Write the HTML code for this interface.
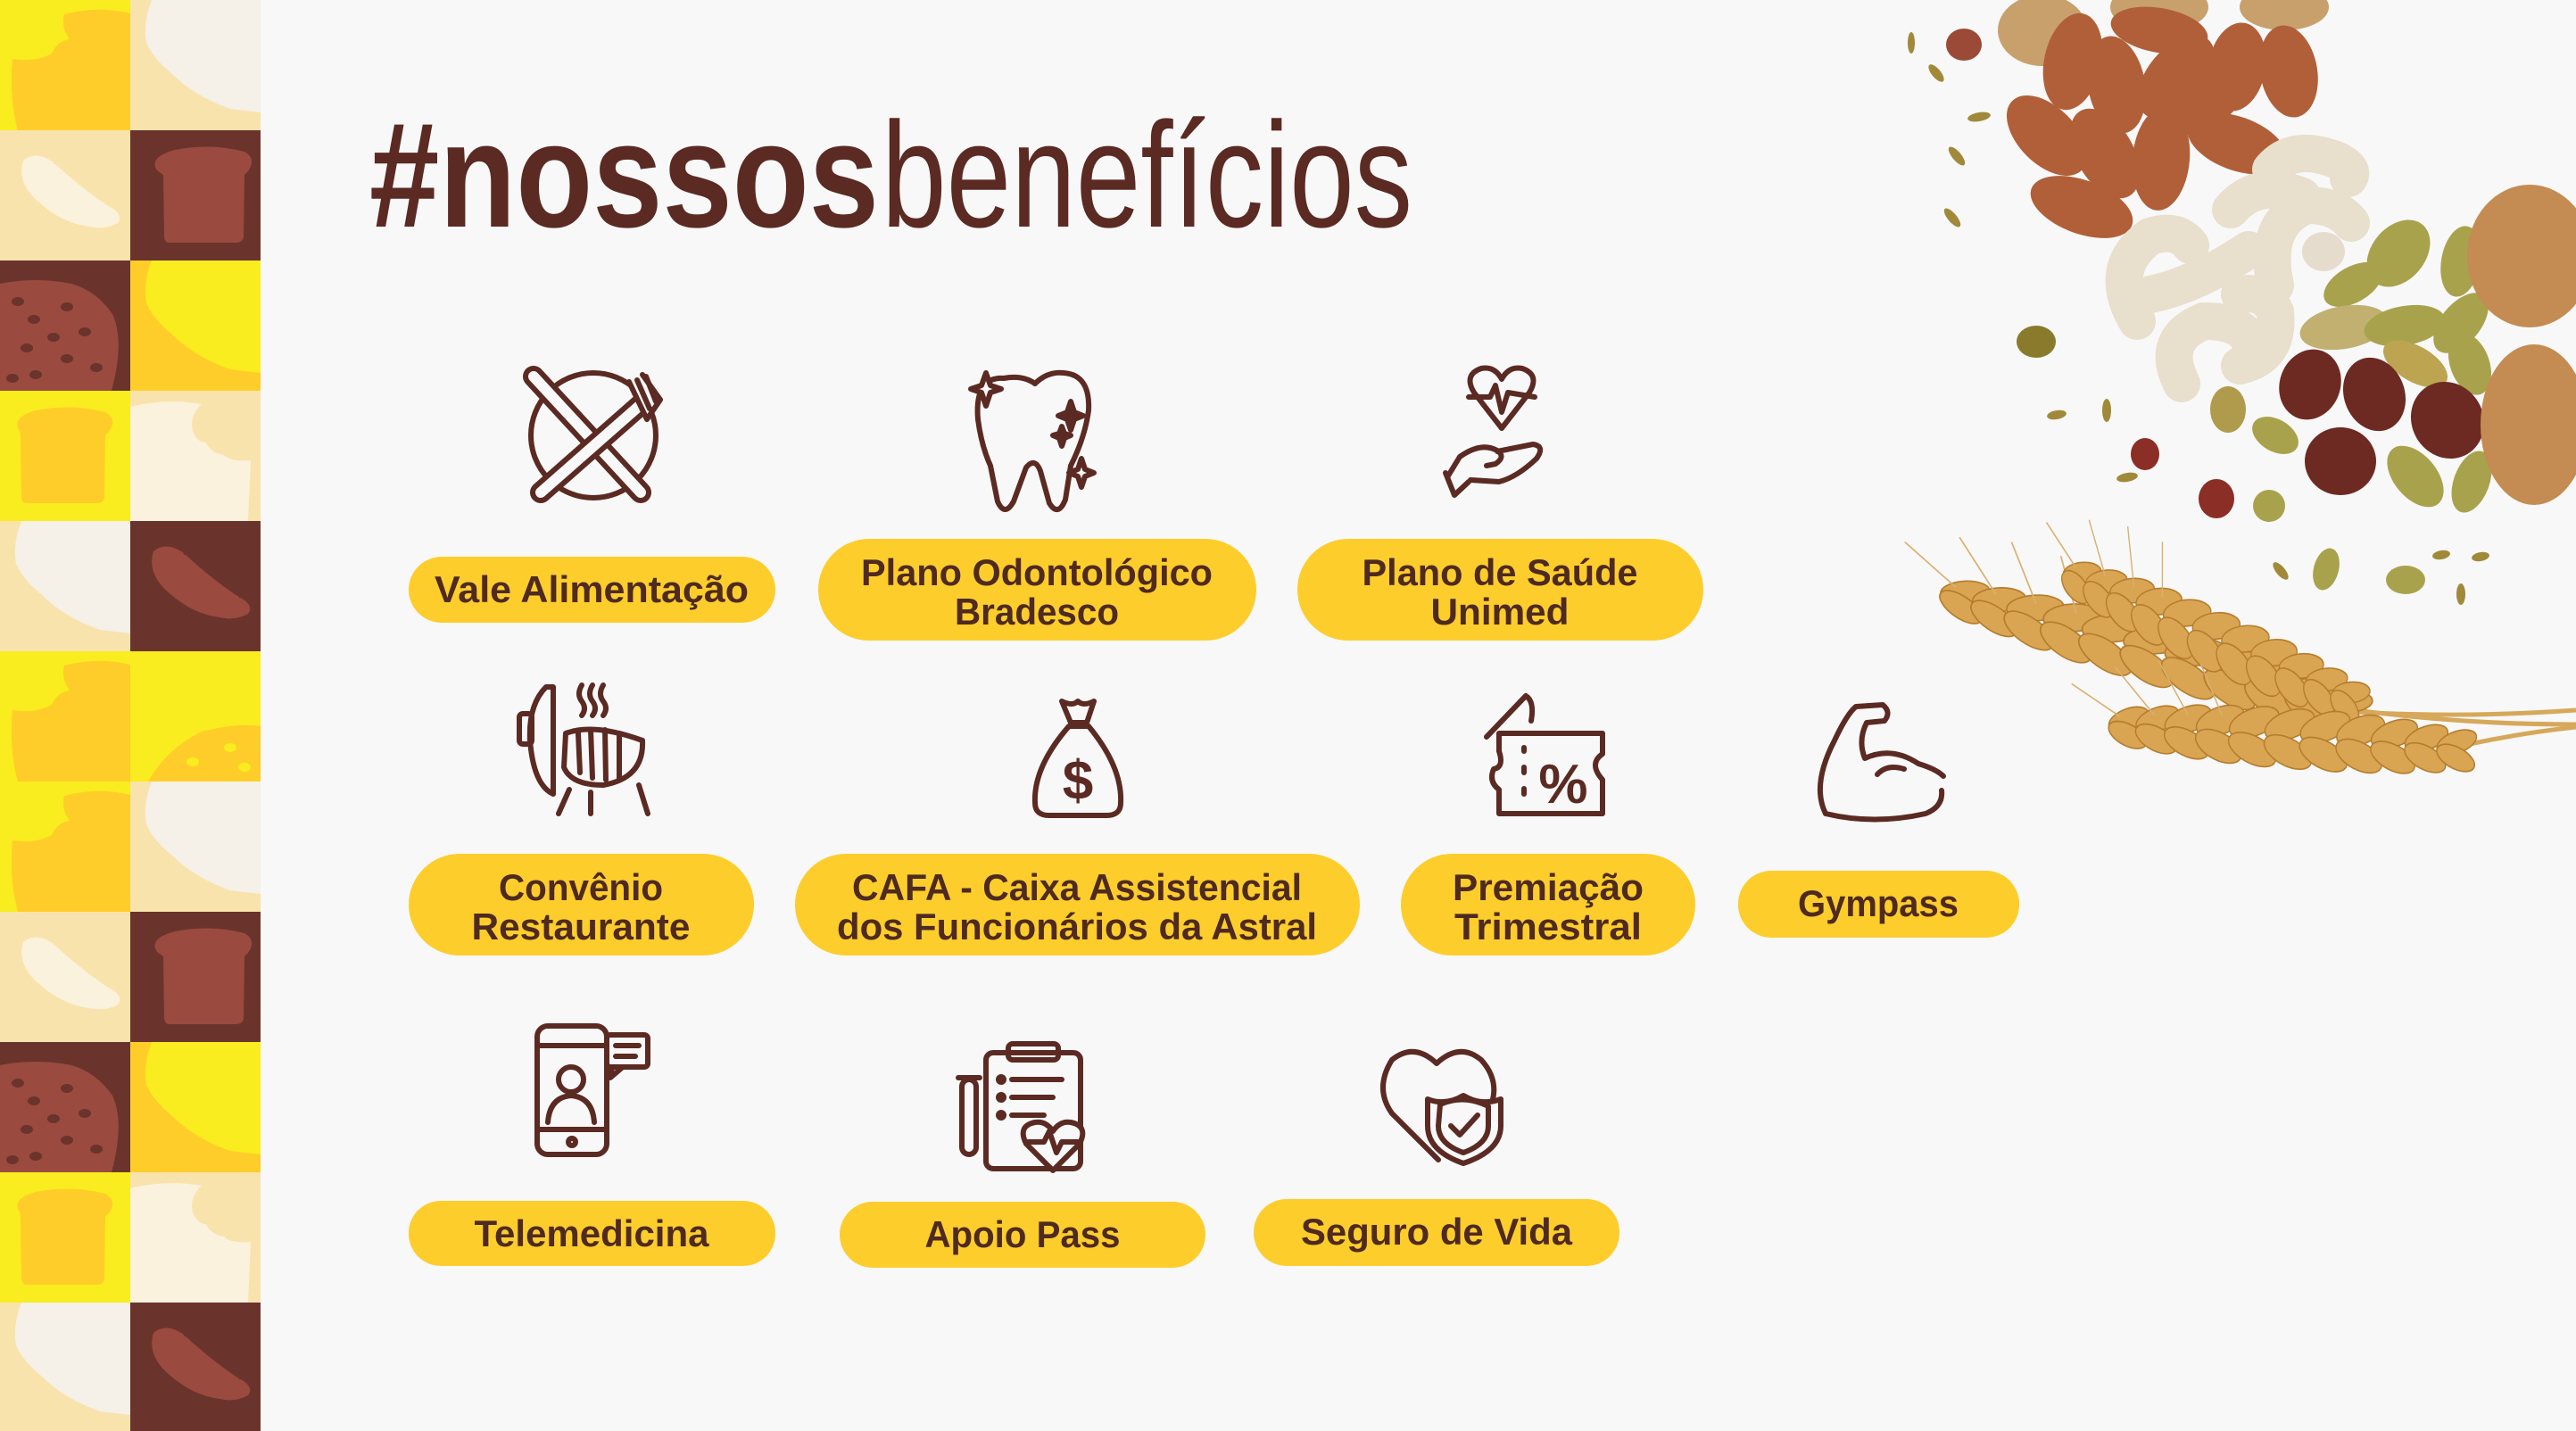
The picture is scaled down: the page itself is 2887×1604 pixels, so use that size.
<!DOCTYPE html>
<html><head><meta charset="utf-8"><style>
html,body{margin:0;padding:0;background:#f8f8f8;}
svg{display:block;}
</style></head><body>
<svg width="2887" height="1604" viewBox="0 0 2887 1604" xmlns="http://www.w3.org/2000/svg">
<defs>
<symbol id="tA" viewBox="0 0 146 146"><rect width="146" height="146" fill="#f9ec1f"/><path d="M20 146 Q10 110 14 66 Q40 70 58 60 Q64 46 78 44 Q68 30 72 16 Q110 6 146 15 L146 146Z" fill="#ffcd29"/></symbol>
<symbol id="tB" viewBox="0 0 146 146"><rect width="146" height="146" fill="#f9e3ad"/><path d="M24 0 Q14 25 18 48 Q26 66 46 82 Q72 108 112 122 L146 126 L146 0Z" fill="#f5f0e8"/></symbol>
<symbol id="tC" viewBox="0 0 146 146"><rect width="146" height="146" fill="#f9e3ad"/><path d="M26 34 Q40 22 60 36 Q90 64 120 84 Q140 94 132 104 Q118 112 100 108 Q70 104 45 82 Q18 60 26 34Z" fill="#faf2dc"/><path d="M60 36 Q80 40 100 62 Q118 74 124 86" stroke="#f9e3ad" stroke-width="3" fill="none"/></symbol>
<symbol id="tD" viewBox="0 0 146 146"><rect width="146" height="146" fill="#6a342d"/><path d="M30 45 Q20 30 50 22 Q90 14 128 24 Q142 32 132 46 L128 50 L127 120 Q126 126 118 126 L44 126 Q38 126 38 118 L37 50Z" fill="#9a4a3e"/></symbol>
<symbol id="tE" viewBox="0 0 146 146"><rect width="146" height="146" fill="#6a342d"/><path d="M0 26 Q40 18 80 26 Q108 34 126 60 Q140 90 125 146 L0 146Z" fill="#9a4a3e"/><g fill="#6a342d"><ellipse cx="20" cy="46" rx="7" ry="5"/><ellipse cx="38" cy="66" rx="7" ry="5"/><ellipse cx="75" cy="52" rx="7" ry="5"/><ellipse cx="60" cy="86" rx="7" ry="5"/><ellipse cx="95" cy="80" rx="7" ry="5"/><ellipse cx="30" cy="98" rx="7" ry="5"/><ellipse cx="75" cy="110" rx="7" ry="5"/><ellipse cx="108" cy="120" rx="7" ry="5"/><ellipse cx="14" cy="132" rx="7" ry="5"/><ellipse cx="40" cy="128" rx="7" ry="5"/></g></symbol>
<symbol id="tF" viewBox="0 0 146 146"><rect width="146" height="146" fill="#ffcd29"/><path d="M24 0 Q14 25 18 48 Q26 66 46 82 Q72 108 112 122 L146 126 L146 0Z" fill="#f9ec1f"/></symbol>
<symbol id="tG" viewBox="0 0 146 146"><rect width="146" height="146" fill="#f9ec1f"/><path d="M22 45 Q12 30 40 22 Q80 14 118 24 Q132 32 122 46 L118 50 L117 120 Q116 126 108 126 L30 126 Q24 126 24 118 L23 50Z" fill="#ffcd29"/></symbol>
<symbol id="tH" viewBox="0 0 146 146"><rect width="146" height="146" fill="#f9e3ad"/><path d="M0 18 Q40 8 80 15 Q66 28 70 45 Q75 58 85 58 Q90 70 105 72 Q112 80 135 78 L132 146 L0 146Z" fill="#faf2dc"/></symbol>
<symbol id="tJ" viewBox="0 0 146 146"><rect width="146" height="146" fill="#6a342d"/><path d="M26 34 Q40 22 60 36 Q90 64 120 84 Q140 94 132 104 Q118 112 100 108 Q70 104 45 82 Q18 60 26 34Z" fill="#9a4a3e"/><path d="M60 36 Q80 40 100 62 Q118 74 124 86" stroke="#6a342d" stroke-width="3" fill="none"/></symbol>
<symbol id="tK" viewBox="0 0 146 146"><rect width="146" height="146" fill="#f9ec1f"/><path d="M20 146 Q40 110 80 90 Q120 80 146 84 L146 146Z" fill="#ffcd29"/><g fill="#f9ec1f"><ellipse cx="70" cy="124" rx="7" ry="5"/><ellipse cx="112" cy="108" rx="7" ry="5"/><ellipse cx="128" cy="130" rx="7" ry="5"/></g></symbol>
</defs>
<rect width="2887" height="1604" fill="#f8f8f8"/>
<g>
<use href="#tA" x="0" y="0" width="146" height="146"/><use href="#tB" x="146" y="0" width="146" height="146"/>
<use href="#tC" x="0" y="146" width="146" height="146"/><use href="#tD" x="146" y="146" width="146" height="146"/>
<use href="#tE" x="0" y="292" width="146" height="146"/><use href="#tF" x="146" y="292" width="146" height="146"/>
<use href="#tG" x="0" y="438" width="146" height="146"/><use href="#tH" x="146" y="438" width="146" height="146"/>
<use href="#tB" x="0" y="584" width="146" height="146"/><use href="#tJ" x="146" y="584" width="146" height="146"/>
<use href="#tA" x="0" y="730" width="146" height="146"/><use href="#tK" x="146" y="730" width="146" height="146"/>
<use href="#tA" x="0" y="876" width="146" height="146"/><use href="#tB" x="146" y="876" width="146" height="146"/>
<use href="#tC" x="0" y="1022" width="146" height="146"/><use href="#tD" x="146" y="1022" width="146" height="146"/>
<use href="#tE" x="0" y="1168" width="146" height="146"/><use href="#tF" x="146" y="1168" width="146" height="146"/>
<use href="#tG" x="0" y="1314" width="146" height="146"/><use href="#tH" x="146" y="1314" width="146" height="146"/>
<use href="#tB" x="0" y="1460" width="146" height="146"/><use href="#tJ" x="146" y="1460" width="146" height="146"/>
</g>

<text x="414" y="254" font-family="Liberation Sans, sans-serif" font-size="168" font-weight="bold" fill="#5b2a23" textLength="571" lengthAdjust="spacingAndGlyphs">#nossos</text>
<text x="988" y="254" font-family="Liberation Sans, sans-serif" font-size="168" fill="#5b2a23" textLength="595" lengthAdjust="spacingAndGlyphs">benefícios</text>

<g fill="#fdcd2c">
<rect x="458" y="624" width="411" height="74" rx="37"/>
<rect x="917" y="604" width="491" height="114" rx="57"/>
<rect x="1454" y="604" width="455" height="114" rx="57"/>
<rect x="458" y="957" width="387" height="114" rx="57"/>
<rect x="891" y="957" width="633" height="114" rx="57"/>
<rect x="1570" y="957" width="330" height="114" rx="57"/>
<rect x="1948" y="976" width="315" height="75" rx="37"/>
<rect x="458" y="1346" width="411" height="73" rx="36"/>
<rect x="941" y="1347" width="410" height="74" rx="37"/>
<rect x="1405" y="1344" width="410" height="75" rx="37"/>
</g>
<g font-family="Liberation Sans, sans-serif" font-size="42" font-weight="bold" fill="#4e2a20" text-anchor="middle">
<text x="663" y="675" textLength="352" lengthAdjust="spacingAndGlyphs">Vale Alimentação</text>
<text x="1162" y="656" textLength="394" lengthAdjust="spacingAndGlyphs">Plano Odontológico</text>
<text x="1162" y="700" textLength="184" lengthAdjust="spacingAndGlyphs">Bradesco</text>
<text x="1681" y="656" textLength="309" lengthAdjust="spacingAndGlyphs">Plano de Saúde</text>
<text x="1681" y="700" textLength="155" lengthAdjust="spacingAndGlyphs">Unimed</text>
<text x="651" y="1009" textLength="184" lengthAdjust="spacingAndGlyphs">Convênio</text>
<text x="651" y="1053" textLength="245" lengthAdjust="spacingAndGlyphs">Restaurante</text>
<text x="1207" y="1009" textLength="504" lengthAdjust="spacingAndGlyphs">CAFA - Caixa Assistencial</text>
<text x="1207" y="1053" textLength="538" lengthAdjust="spacingAndGlyphs">dos Funcionários da Astral</text>
<text x="1735" y="1009" textLength="214" lengthAdjust="spacingAndGlyphs">Premiação</text>
<text x="1735" y="1053" textLength="210" lengthAdjust="spacingAndGlyphs">Trimestral</text>
<text x="2105" y="1027" textLength="180" lengthAdjust="spacingAndGlyphs">Gympass</text>
<text x="663" y="1397" textLength="263" lengthAdjust="spacingAndGlyphs">Telemedicina</text>
<text x="1146" y="1398" textLength="219" lengthAdjust="spacingAndGlyphs">Apoio Pass</text>
<text x="1610" y="1395" textLength="304" lengthAdjust="spacingAndGlyphs">Seguro de Vida</text>
</g>

<g stroke="#5b2a23" stroke-width="6" fill="none" stroke-linecap="round" stroke-linejoin="round">
<circle cx="665" cy="488" r="70"/>
<line x1="598" y1="422" x2="718" y2="552" stroke-width="24"/>
<line x1="598" y1="422" x2="718" y2="552" stroke-width="12" stroke="#f8f8f8"/>
<line x1="722" y1="450" x2="606" y2="552" stroke-width="24"/>
<line x1="722" y1="450" x2="606" y2="552" stroke-width="12" stroke="#f8f8f8"/>
<path d="M705 428 L725 470 L740 448 L720 420" stroke-width="6" fill="#f8f8f8"/>
<line x1="714" y1="426" x2="728" y2="458"/><line x1="724" y1="422" x2="735" y2="450"/>
<path d="M1125 424 Q1092 422 1096 470 Q1100 500 1110 522 L1118 562 Q1126 580 1136 562 L1150 524 Q1160 512 1166 528 L1176 564 Q1186 580 1194 560 L1200 522 Q1216 490 1220 460 Q1222 420 1192 418 Q1174 416 1160 430 Q1146 420 1125 424Z"/>
<path d="M1105 418 L1110 432 L1122 436 L1110 440 L1105 455 L1100 440 L1088 436 L1100 432Z" fill="#f8f8f8"/>
<path d="M1200 450 L1204 462 L1214 466 L1204 470 L1200 482 L1196 470 L1186 466 L1196 462Z" fill="#5b2a23"/>
<path d="M1190 478 L1193 486 L1200 488 L1193 491 L1190 500 L1187 491 L1180 488 L1187 486Z" fill="#5b2a23"/>
<path d="M1212 514 L1216 526 L1226 530 L1216 534 L1212 546 L1208 534 L1198 530 L1208 526Z" fill="#f8f8f8"/>
<path d="M1683 480 L1652 440 Q1640 420 1660 413 Q1675 410 1683 425 Q1691 410 1706 413 Q1726 420 1714 440Z"/>
<path d="M1646 445 L1670 445 L1676 432 L1683 462 L1690 440 L1720 445"/>
<path d="M1622 535 L1636 512 Q1660 495 1678 505 Q1688 512 1676 520 L1666 522 M1678 506 L1718 498 Q1732 500 1722 514 Q1700 535 1680 540 L1648 538 M1620 530 L1630 555 L1646 540"/>
<path d="M612 770 Q592 790 594 830 Q598 880 620 890 L620 770Z"/>
<rect x="582" y="800" width="14" height="34" rx="4"/>
<path d="M634 822 Q665 810 720 830 Q722 872 676 880 Q640 880 632 860Z"/>
<line x1="648" y1="822" x2="650" y2="866"/><line x1="662" y1="818" x2="664" y2="872"/><line x1="678" y1="818" x2="679" y2="874"/><line x1="694" y1="822" x2="694" y2="872"/>
<line x1="638" y1="885" x2="626" y2="912"/><line x1="716" y1="880" x2="726" y2="912"/><line x1="662" y1="888" x2="662" y2="912"/>
<path d="M652 768 Q646 778 652 786 Q658 794 652 802 M664 768 Q658 778 664 786 Q670 794 664 802 M676 768 Q670 778 676 786 Q682 794 676 802"/>
<path d="M1190 786 L1200 810 L1218 810 L1226 786 Q1214 792 1208 786 Q1202 792 1190 786Z"/>
<path d="M1198 814 Q1158 860 1160 900 Q1160 914 1176 914 L1240 914 Q1256 914 1256 900 Q1258 860 1220 814Z"/>
<path d="M1666 826 L1710 780 Q1720 786 1716 808"/>
<path d="M1680 822 L1796 822 L1796 845 Q1780 856 1796 874 L1796 912 L1680 912 L1680 885 Q1668 876 1674 862 Q1686 860 1680 842Z"/>
<line x1="1708" y1="838" x2="1708" y2="842"/><line x1="1708" y1="860" x2="1708" y2="866"/><line x1="1708" y1="884" x2="1708" y2="890"/>
<path d="M2046 912 Q2030 880 2056 830 Q2070 800 2080 792 L2110 790 Q2120 798 2112 808 L2092 810 Q2082 830 2090 850 Q2120 836 2150 856 Q2170 862 2178 870 M2046 912 Q2100 925 2158 912 Q2178 904 2176 886 M2104 868 Q2115 856 2134 862"/>
<rect x="602" y="1150" width="78" height="144" rx="12"/>
<line x1="604" y1="1172" x2="678" y2="1172"/><line x1="604" y1="1266" x2="678" y2="1266"/>
<circle cx="641" cy="1280" r="4"/>
<rect x="680" y="1160" width="46" height="36" rx="4"/><path d="M686 1196 L684 1208 L698 1196"/>
<line x1="690" y1="1172" x2="716" y2="1172"/><line x1="690" y1="1184" x2="712" y2="1184"/>
<circle cx="640" cy="1210" r="14"/><path d="M614 1258 Q616 1230 640 1228 Q664 1230 666 1258"/>
<rect x="1105" y="1180" width="106" height="130" rx="8"/>
<rect x="1130" y="1170" width="56" height="18" rx="5"/>
<line x1="1134" y1="1210" x2="1190" y2="1210"/><line x1="1134" y1="1230" x2="1180" y2="1230"/><line x1="1134" y1="1250" x2="1170" y2="1250"/>
<circle cx="1122" cy="1210" r="3"/><circle cx="1122" cy="1230" r="3"/><circle cx="1122" cy="1250" r="3"/>
<path d="M1180 1312 L1150 1282 Q1140 1262 1160 1258 Q1172 1256 1180 1268 Q1188 1256 1200 1258 Q1220 1262 1210 1282Z" fill="#f8f8f8"/>
<path d="M1152 1280 L1170 1280 L1176 1268 L1184 1292 L1190 1280 L1208 1280"/>
<rect x="1078" y="1210" width="16" height="84" rx="8"/><line x1="1074" y1="1208" x2="1098" y2="1208"/>
<path d="M1612 1300 L1560 1248 Q1540 1220 1560 1188 Q1585 1168 1610 1192 Q1636 1168 1660 1188 Q1680 1210 1672 1236"/>
<path d="M1640 1228 Q1660 1240 1682 1232 L1682 1262 Q1682 1290 1640 1304 Q1600 1290 1600 1262 L1600 1232 Q1620 1240 1640 1228Z" fill="#f8f8f8"/>
<path d="M1614 1238 Q1640 1226 1668 1240 L1668 1262 Q1668 1282 1640 1292 Q1612 1282 1612 1262Z"/>
<path d="M1626 1262 L1636 1272 L1656 1250"/>
</g>
<text x="1208" y="896" font-family="Liberation Sans, sans-serif" font-size="62" font-weight="bold" fill="#5b2a23" text-anchor="middle">$</text>
<text x="1752" y="900" font-family="Liberation Sans, sans-serif" font-size="62" font-weight="bold" fill="#5b2a23" text-anchor="middle">%</text>

<g>
<g fill="#c8a06c"><ellipse cx="2289" cy="34" rx="50" ry="40"/><ellipse cx="2420" cy="8" rx="55" ry="28"/><ellipse cx="2560" cy="8" rx="50" ry="26"/></g>
<g fill="#b15f39">
<ellipse cx="2323" cy="69" rx="32" ry="55" transform="rotate(12 2323 69)"/>
<ellipse cx="2372" cy="95" rx="32" ry="55" transform="rotate(-10 2372 95)"/>
<ellipse cx="2439" cy="86" rx="32" ry="55" transform="rotate(40 2439 86)"/>
<ellipse cx="2507" cy="75" rx="32" ry="50" transform="rotate(10 2507 75)"/>
<ellipse cx="2565" cy="80" rx="32" ry="52" transform="rotate(-10 2565 80)"/>
<ellipse cx="2420" cy="34" rx="25" ry="55" transform="rotate(-80 2420 34)"/>
<ellipse cx="2468" cy="115" rx="30" ry="50" transform="rotate(60 2468 115)"/>
<ellipse cx="2294" cy="152" rx="32" ry="55" transform="rotate(-45 2294 152)"/>
<ellipse cx="2359" cy="172" rx="32" ry="55" transform="rotate(-30 2359 172)"/>
<ellipse cx="2422" cy="178" rx="32" ry="58" transform="rotate(5 2422 178)"/>
<ellipse cx="2507" cy="161" rx="30" ry="58" transform="rotate(-70 2507 161)"/>
<ellipse cx="2333" cy="232" rx="30" ry="60" transform="rotate(-70 2333 232)"/>
<ellipse cx="2201" cy="50" rx="20" ry="18" fill="#9a4a36"/>
</g>
<g stroke="#e8dfcc" stroke-width="42" fill="none" stroke-linecap="round">
<path d="M2395 360 Q2360 300 2410 265 Q2440 255 2455 275"/>
<path d="M2410 330 Q2460 320 2520 280"/>
<path d="M2445 430 Q2420 380 2470 360 Q2510 360 2520 380"/>
<path d="M2510 410 Q2555 400 2550 350 Q2540 325 2510 330"/>
<path d="M2550 320 Q2535 250 2585 230 Q2620 230 2635 250"/>
<path d="M2500 235 Q2530 200 2580 220"/>
<path d="M2545 190 Q2570 160 2620 180 Q2640 190 2632 200"/>
</g>
<ellipse cx="2604" cy="282" rx="24" ry="22" fill="#e6dccd"/>
<g fill="#a9a24c">
<ellipse cx="2688" cy="284" rx="30" ry="42" transform="rotate(40 2688 284)"/>
<ellipse cx="2637" cy="319" rx="20" ry="36" transform="rotate(60 2637 319)"/>
<ellipse cx="2758" cy="293" rx="22" ry="40" transform="rotate(10 2758 293)"/>
<ellipse cx="2627" cy="367" rx="24" ry="50" transform="rotate(80 2627 367)" fill="#c2b070"/>
<ellipse cx="2695" cy="365" rx="22" ry="46" transform="rotate(80 2695 365)"/>
<ellipse cx="2758" cy="362" rx="22" ry="40" transform="rotate(40 2758 362)"/>
<ellipse cx="2707" cy="408" rx="20" ry="40" transform="rotate(-60 2707 408)" fill="#bca451"/>
<ellipse cx="2768" cy="408" rx="22" ry="36" transform="rotate(-20 2768 408)"/>
<ellipse cx="2707" cy="534" rx="24" ry="40" transform="rotate(-40 2707 534)"/>
<ellipse cx="2770" cy="540" rx="20" ry="36" transform="rotate(20 2770 540)"/>
<ellipse cx="2497" cy="459" rx="20" ry="26" fill="#b09a4c"/>
<ellipse cx="2550" cy="488" rx="28" ry="18" transform="rotate(30 2550 488)"/>
<ellipse cx="2282" cy="383" rx="22" ry="18" fill="#8a7a2c"/>
<ellipse cx="2543" cy="567" rx="18" ry="18"/>
<ellipse cx="2607" cy="638" rx="14" ry="24" transform="rotate(15 2607 638)"/>
<ellipse cx="2696" cy="650" rx="22" ry="16"/>
</g>
<g fill="#6d2a22">
<ellipse cx="2589" cy="431" rx="34" ry="40" transform="rotate(20 2589 431)"/>
<ellipse cx="2661" cy="442" rx="34" ry="42" transform="rotate(-20 2661 442)"/>
<ellipse cx="2623" cy="517" rx="40" ry="38"/>
<ellipse cx="2743" cy="471" rx="40" ry="44" transform="rotate(-30 2743 471)"/>
<ellipse cx="2404" cy="509" rx="16" ry="18" fill="#8a2e26"/>
<ellipse cx="2484" cy="559" rx="20" ry="22" fill="#8a2e26"/>
</g>
<g fill="#c48b52"><ellipse cx="2835" cy="287" rx="70" ry="80"/><ellipse cx="2840" cy="476" rx="60" ry="90"/></g>
<g fill="#a08a3a">
<ellipse cx="2142" cy="48" rx="4" ry="12"/><ellipse cx="2170" cy="82" rx="5" ry="12" transform="rotate(-40 2170 82)"/><ellipse cx="2218" cy="131" rx="5" ry="13" transform="rotate(80 2218 131)"/><ellipse cx="2193" cy="175" rx="5" ry="13" transform="rotate(-40 2193 175)"/><ellipse cx="2188" cy="244" rx="5" ry="13" transform="rotate(-40 2188 244)"/><ellipse cx="2361" cy="460" rx="5" ry="13"/><ellipse cx="2305" cy="465" rx="5" ry="11" transform="rotate(80 2305 465)"/><ellipse cx="2384" cy="535" rx="5" ry="12" transform="rotate(80 2384 535)"/><ellipse cx="2556" cy="640" rx="5" ry="12" transform="rotate(-40 2556 640)"/><ellipse cx="2736" cy="622" rx="5" ry="10" transform="rotate(80 2736 622)"/><ellipse cx="2780" cy="624" rx="5" ry="10" transform="rotate(80 2780 624)"/><ellipse cx="2758" cy="666" rx="5" ry="12"/>
</g>
</g>

<defs>
<g id="spike">
<g fill="#d9a552" stroke="#b67c2c" stroke-width="1.5">
<ellipse cx="0" cy="-8" rx="24" ry="11" transform="rotate(-20 0 -8)"/><ellipse cx="0" cy="8" rx="24" ry="11" transform="rotate(20 0 8)"/>
<ellipse cx="34" cy="-10" rx="26" ry="12" transform="rotate(-20 34 -10)"/><ellipse cx="34" cy="10" rx="26" ry="12" transform="rotate(20 34 10)"/>
<ellipse cx="70" cy="-12" rx="28" ry="13" transform="rotate(-20 70 -12)"/><ellipse cx="70" cy="12" rx="28" ry="13" transform="rotate(20 70 12)"/>
<ellipse cx="108" cy="-13" rx="29" ry="14" transform="rotate(-20 108 -13)"/><ellipse cx="108" cy="13" rx="29" ry="14" transform="rotate(20 108 13)"/>
<ellipse cx="148" cy="-14" rx="30" ry="14" transform="rotate(-20 148 -14)"/><ellipse cx="148" cy="14" rx="30" ry="14" transform="rotate(20 148 14)"/>
<ellipse cx="190" cy="-14" rx="30" ry="14" transform="rotate(-20 190 -14)"/><ellipse cx="190" cy="14" rx="30" ry="14" transform="rotate(20 190 14)"/>
<ellipse cx="232" cy="-14" rx="30" ry="14" transform="rotate(-20 232 -14)"/><ellipse cx="232" cy="14" rx="30" ry="14" transform="rotate(20 232 14)"/>
<ellipse cx="274" cy="-13" rx="29" ry="14" transform="rotate(-20 274 -13)"/><ellipse cx="274" cy="13" rx="29" ry="14" transform="rotate(20 274 13)"/>
<ellipse cx="314" cy="-12" rx="28" ry="13" transform="rotate(-20 314 -12)"/><ellipse cx="314" cy="12" rx="28" ry="13" transform="rotate(20 314 12)"/>
<ellipse cx="352" cy="-10" rx="26" ry="12" transform="rotate(-20 352 -10)"/><ellipse cx="352" cy="10" rx="26" ry="12" transform="rotate(20 352 10)"/>
<ellipse cx="388" cy="-8" rx="24" ry="11" transform="rotate(-20 388 -8)"/><ellipse cx="388" cy="8" rx="24" ry="11" transform="rotate(20 388 8)"/>
</g>
<g stroke="#d9b070" stroke-width="1.5"><line x1="-10" y1="-10" x2="-70" y2="-40"/><line x1="30" y1="-14" x2="-20" y2="-60"/><line x1="70" y1="-16" x2="30" y2="-70"/><line x1="110" y1="-18" x2="80" y2="-70"/></g>
</g>
</defs>
<g stroke="#d6a85a" stroke-width="5" fill="none"><path d="M2640 798 Q2760 805 2887 796"/><path d="M2640 796 Q2760 812 2887 812"/><path d="M2750 838 Q2820 822 2887 815"/></g>
<use href="#spike" transform="translate(2200 672) rotate(16) scale(1.15 1.1)"/>
<use href="#spike" transform="translate(2330 650) rotate(24) scale(0.85 1.1)"/>
<use href="#spike" transform="translate(2385 815) rotate(4) scale(0.95 1.1)"/>
</svg>
</body></html>
